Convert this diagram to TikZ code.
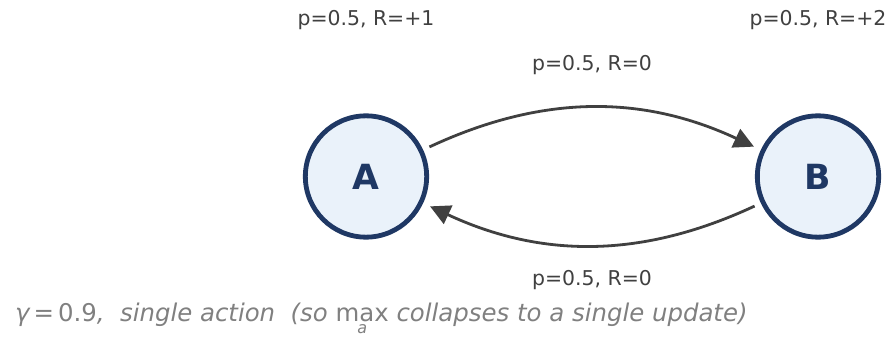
\documentclass[tikz,border=0pt]{standalone}
\usepackage{fontspec}
\setmainfont{DejaVu Sans}
\usepackage{xcolor}
\usetikzlibrary{arrows.meta}

\definecolor{navy}{RGB}{31,56,100}
\definecolor{palefill}{RGB}{234,242,250}
\definecolor{edgegray}{RGB}{64,64,64}
\definecolor{notegray}{RGB}{128,128,128}

\begin{document}
\begin{tikzpicture}[
  x=0.75pt, y=0.75pt,
  every node/.style={inner sep=0pt,outer sep=0pt},
  state/.style={circle,draw=navy,line width=3.6pt,fill=palefill,minimum size=91pt,
                font=\fontsize{26}{30}\selectfont\bfseries,text=navy},
  lab/.style  ={font=\fontsize{15.3}{18}\selectfont,text=edgegray,anchor=base},
  note/.style ={font=\fontsize{18.3}{21}\selectfont\itshape,text=notegray,anchor=base west},
  arr/.style  ={-{Triangle[length=15pt,width=15pt]},line width=2.1pt,edgegray},
]
\useasboundingbox (0,0) rectangle (892,336);

\node[state] at (366,159.5) (A) {A};
\node[state] at (818,159.5) (B) {B};

\node[lab] at (366,310) (lblA)   {p=0.5, R=+1};
\node[lab] at (818,310) (lblB)   {p=0.5, R=+2};
\node[lab] at (592,265) (lblTop) {p=0.5, R=0};
\node[lab] at (592,51)  (lblBot) {p=0.5, R=0};

\node[note] at (15,15) (gamma)
  {γ\,{\upshape=\,0.9},\ \ single action\ \ (so
   $\mathop{\hbox{\upshape max}}\limits_{\raisebox{-3pt}{\fontsize{12}{14}\selectfont\itshape a}}$
   collapses to a single update)};

\draw[arr,shorten <=7pt,shorten >=7.5pt] (A.25) to[bend left=25] (B.155);
\draw[arr,shorten <=7pt,shorten >=7.5pt] (B.205) to[bend left=25] (A.335);
\end{tikzpicture}
\end{document}
